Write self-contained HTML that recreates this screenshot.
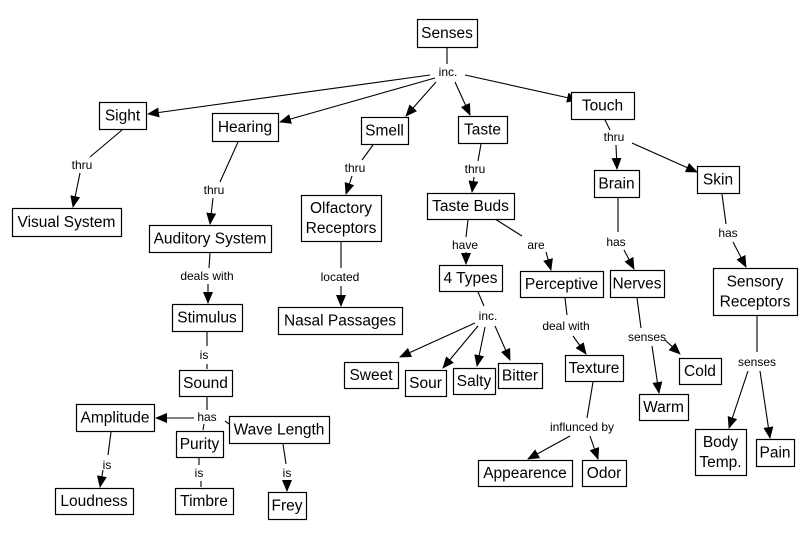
<!DOCTYPE html>
<html><head><meta charset="utf-8"><style>
html,body{margin:0;padding:0;background:#fff;}
svg{display:block;}
.n rect{fill:#fff;stroke:#000;stroke-width:1.2;}
.n text{font-family:"Liberation Sans",sans-serif;font-size:15.5px;fill:#000;text-anchor:middle;}
.l{font-family:"Liberation Sans",sans-serif;font-size:12px;fill:#000;text-anchor:middle;}
line{stroke:#000;stroke-width:1.1;}
</style></head><body>
<svg id="s" width="811" height="540" viewBox="0 0 811 540" xmlns="http://www.w3.org/2000/svg">
<defs><marker id="a" markerWidth="12" markerHeight="10" refX="11" refY="5" orient="auto" markerUnits="userSpaceOnUse"><path d="M0,0 L12,5 L0,10 z" fill="#000"/></marker></defs>
<g id="lines"></g>
<g class="l">
<text x="448" y="76">inc.</text>
<text x="82" y="169">thru</text>
<text x="214" y="194">thru</text>
<text x="355" y="172">thru</text>
<text x="475" y="173">thru</text>
<text x="614" y="141">thru</text>
<text x="616" y="246">has</text>
<text x="728" y="237">has</text>
<text x="207" y="280">deals with</text>
<text x="340" y="281">located</text>
<text x="465" y="249">have</text>
<text x="536" y="249">are</text>
<text x="488" y="320">inc.</text>
<text x="566" y="330">deal with</text>
<text x="647" y="341">senses</text>
<text x="757" y="366">senses</text>
<text x="204" y="359">is</text>
<text x="207" y="421">has</text>
<text x="582" y="431">influnced by</text>
<text x="107" y="469">is</text>
<text x="199" y="477">is</text>
<text x="287" y="477">is</text>
</g>
<g id="nodes"></g>
</svg>
<script>
var N=[["Senses",417,19,60,28],["Sight",99,102,47,27],["Hearing",212,113,66,28],["Smell",361,117,47,27],["Taste",458,116,49,27],["Touch",571,92,63,27],["Visual System",12,208,109,28],["Auditory System",149,225,122,27],["Olfactory|Receptors",301,195,80,46],["Taste Buds",427,193,87,26],["Brain",594,170,45,27],["Skin",697,166,42,27],["4 Types",439,265,63,26],["Perceptive",520,271,83,26],["Nerves",610,270,54,27],["Sensory|Receptors",713,268,84,47],["Stimulus",172,304,70,27],["Nasal Passages",278,307,124,27],["Sweet",344,362,54,26],["Sour",405,370,41,26],["Salty",453,368,42,26],["Bitter",498,363,44,25],["Texture",565,355,58,26],["Sound",179,370,53,26],["Cold",679,358,42,26],["Warm",639,394,49,26],["Amplitude",76,404,78,27],["Purity",176,431,47,26],["Wave Length",229,416,100,27],["Body|Temp.",695,429,51,46],["Pain",756,439,38,27],["Appearence",478,460,94,26],["Odor",582,460,44,26],["Loudness",55,488,78,26],["Timbre",175,488,58,26],["Frey",268,492,38,27]];
var L=[[447,47,447,64,0],[430,75,148,114,1],[435,78,280,122,1],[436,82,406,116,1],[455,82,470,115,1],[465,75,578,100,1],
[122,130,90,157,0],[80,173,73,207,1],[238,142,220,182,0],[213,198,210,224,1],[373,145,362,160,0],[352,176,346,194,1],
[481,144,478,161,0],[474,177,472,192,1],[605,120,610,130,0],[616,145,617,169,1],[632,143,697,172,1],
[210,253,209,268,0],[208,284,208,303,1],[341,242,341,268,0],[341,286,341,306,1],[468,220,466,237,0],[466,252,466,264,1],
[495,219,522,236,0],[546,252,551,270,1],[618,198,618,232,0],[624,250,634,269,1],[722,194,726,224,0],[733,242,746,267,1],
[478,292,484,306,0],[475,323,400,357,1],[478,326,443,368,1],[485,327,477,366,1],[495,326,510,360,1],
[565,298,567,315,0],[573,336,586,354,1],[637,298,641,328,0],[665,340,680,354,1],[652,346,659,393,1],
[757,316,757,352,0],[748,371,729,428,1],[760,371,770,438,1],[207,332,207,346,0],[207,364,207,369,0],
[207,397,207,410,0],[194,418,156,418,1],[204,424,203,430,0],[225,421,229,424,0],[111,432,108,455,0],[103,470,100,487,1],
[199,458,199,465,0],[201,481,201,487,0],[283,444,286,464,0],[287,480,287,491,1],
[593,382,587,418,0],[570,436,528,459,1],[590,436,598,459,1]];
var ns="http://www.w3.org/2000/svg",g=document.getElementById("lines"),gn=document.getElementById("nodes");
L.forEach(function(l){var e=document.createElementNS(ns,"line");e.setAttribute("x1",l[0]);e.setAttribute("y1",l[1]);e.setAttribute("x2",l[2]);e.setAttribute("y2",l[3]);if(l[4])e.setAttribute("marker-end","url(#a)");g.appendChild(e);});
N.forEach(function(n){var gg=document.createElementNS(ns,"g");gg.setAttribute("class","n");var r=document.createElementNS(ns,"rect");r.setAttribute("x",n[1]+.5);r.setAttribute("y",n[2]+.5);r.setAttribute("width",n[3]);r.setAttribute("height",n[4]);gg.appendChild(r);
var p=n[0].split("|");p.forEach(function(s,i){var t=document.createElementNS(ns,"text");t.setAttribute("x",n[1]+n[3]/2);var cy=n[2]+n[4]/2+5+(p.length>1?(i-0.5)*20:0);t.setAttribute("y",cy);t.textContent=s;gg.appendChild(t);});gn.appendChild(gg);});
</script>
</body></html>
